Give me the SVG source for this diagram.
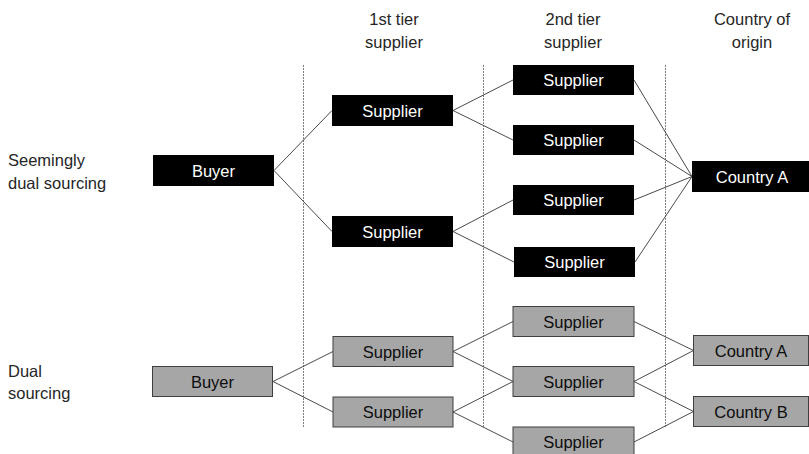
<svg xmlns="http://www.w3.org/2000/svg" width="809" height="454" viewBox="0 0 809 454">
  <style>
    text { font-family: "Liberation Sans", Arial, sans-serif; font-size: 16.5px; }
    .hdr { fill: #262626; text-anchor: middle; }
    .lbl { fill: #262626; }
    .dark rect { fill: #000000; }
    .dark text { fill: #ffffff; text-anchor: middle; }
    .light rect { fill: #a6a6a6; stroke: #3f3f3f; stroke-width: 1; }
    .light text { fill: #0d0d0d; text-anchor: middle; }
    .sep { stroke: #7f7f7f; stroke-width: 1; stroke-dasharray: 2 1; }
    #connectors line { stroke: #4a4a4a; stroke-width: 1; }
  </style>

  <!-- column headers -->
  <g id="headers">
    <text class="hdr" x="394" y="25">1st tier</text>
    <text class="hdr" x="394" y="48">supplier</text>
    <text class="hdr" x="573" y="25">2nd tier</text>
    <text class="hdr" x="573" y="48">supplier</text>
    <text class="hdr" x="752" y="25">Country of</text>
    <text class="hdr" x="752" y="48">origin</text>
  </g>

  <!-- row labels -->
  <g id="row-labels">
    <text class="lbl" x="8" y="166">Seemingly</text>
    <text class="lbl" x="8" y="189">dual sourcing</text>
    <text class="lbl" x="8" y="377">Dual</text>
    <text class="lbl" x="8" y="399">sourcing</text>
  </g>

  <!-- tier separators -->
  <g id="separators">
    <line class="sep" x1="303.5" y1="65" x2="303.5" y2="428"/>
    <line class="sep" x1="483.5" y1="65" x2="483.5" y2="428"/>
    <line class="sep" x1="665.5" y1="65" x2="665.5" y2="428"/>
  </g>

  <g id="connectors">
    <!-- seemingly dual sourcing -->
    <line x1="274" y1="170.5" x2="332" y2="110.5"/>
    <line x1="274" y1="170.5" x2="332" y2="231.5"/>
    <line x1="453" y1="110.5" x2="513" y2="80"/>
    <line x1="453" y1="110.5" x2="513" y2="140"/>
    <line x1="453" y1="231.5" x2="513" y2="200"/>
    <line x1="453" y1="231.5" x2="514" y2="262"/>
    <line x1="634" y1="80" x2="692" y2="176.5"/>
    <line x1="634" y1="140" x2="692" y2="176.5"/>
    <line x1="634" y1="200" x2="692" y2="176.5"/>
    <line x1="635" y1="262" x2="692" y2="176.5"/>
    <!-- dual sourcing -->
    <line x1="273" y1="381.5" x2="333" y2="351.5"/>
    <line x1="273" y1="381.5" x2="333" y2="412"/>
    <line x1="453" y1="351.5" x2="513" y2="321.5"/>
    <line x1="453" y1="351.5" x2="513" y2="381.5"/>
    <line x1="453" y1="412" x2="513" y2="381.5"/>
    <line x1="453" y1="412" x2="513" y2="442"/>
    <line x1="634" y1="321.5" x2="693.5" y2="350.5"/>
    <line x1="634" y1="381.5" x2="693.5" y2="350.5"/>
    <line x1="634" y1="381.5" x2="693.5" y2="411.5"/>
    <line x1="634" y1="442" x2="693.5" y2="411.5"/>
  </g>

  <!-- seemingly dual sourcing chain -->
  <g id="buyer-1" class="dark"><rect x="153" y="155" width="121" height="31"/><text x="213.5" y="176.5">Buyer</text></g>
  <g id="t1-supplier-1" class="dark"><rect x="332" y="95" width="121" height="31"/><text x="392.5" y="116.5">Supplier</text></g>
  <g id="t1-supplier-2" class="dark"><rect x="332" y="216" width="121" height="31"/><text x="392.5" y="237.5">Supplier</text></g>
  <g id="t2-supplier-1" class="dark"><rect x="513" y="65" width="121" height="30"/><text x="573.5" y="86">Supplier</text></g>
  <g id="t2-supplier-2" class="dark"><rect x="513" y="125" width="121" height="30"/><text x="573.5" y="146">Supplier</text></g>
  <g id="t2-supplier-3" class="dark"><rect x="513" y="185" width="121" height="30"/><text x="573.5" y="206">Supplier</text></g>
  <g id="t2-supplier-4" class="dark"><rect x="514" y="247" width="121" height="30"/><text x="574.5" y="268">Supplier</text></g>
  <g id="country-a-1" class="dark"><rect x="692" y="161" width="117" height="31"/><text x="752" y="182.5">Country A</text></g>

  <!-- dual sourcing chain -->
  <g id="buyer-2" class="light"><rect x="152.5" y="366.5" width="120" height="30"/><text x="212.5" y="387.5">Buyer</text></g>
  <g id="t1-supplier-3" class="light"><rect x="333" y="336.5" width="120" height="30"/><text x="393" y="357.5">Supplier</text></g>
  <g id="t1-supplier-4" class="light"><rect x="333" y="397" width="120" height="30"/><text x="393" y="418">Supplier</text></g>
  <g id="t2-supplier-5" class="light"><rect x="513" y="306.5" width="121" height="30"/><text x="573.5" y="327.5">Supplier</text></g>
  <g id="t2-supplier-6" class="light"><rect x="513" y="366.5" width="121" height="30"/><text x="573.5" y="387.5">Supplier</text></g>
  <g id="t2-supplier-7" class="light"><rect x="513" y="427" width="121" height="30"/><text x="573.5" y="448">Supplier</text></g>
  <g id="country-a-2" class="light"><rect x="693.5" y="335.5" width="115" height="30"/><text x="751" y="356.5">Country A</text></g>
  <g id="country-b" class="light"><rect x="693.5" y="396.5" width="115" height="30"/><text x="751" y="417.5">Country B</text></g>
</svg>
